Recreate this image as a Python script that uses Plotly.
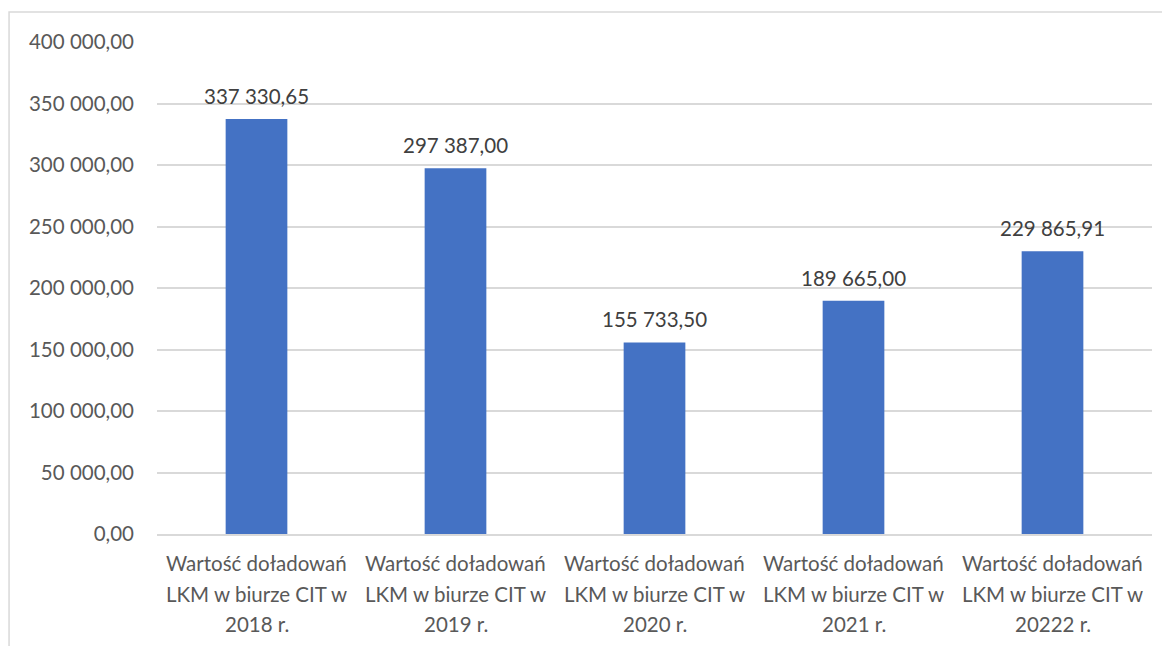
import plotly.graph_objects as go

categories = [
    "Wartość doładowań<br>LKM w biurze CIT w<br>2018 r.",
    "Wartość doładowań<br>LKM w biurze CIT w<br>2019 r.",
    "Wartość doładowań<br>LKM w biurze CIT w<br>2020 r.",
    "Wartość doładowań<br>LKM w biurze CIT w<br>2021 r.",
    "Wartość doładowań<br>LKM w biurze CIT w<br>20222 r.",
]
values = [337330.65, 297387.00, 155733.50, 189665.00, 229865.91]
tick_vals = [0, 50000, 100000, 150000, 200000, 250000, 300000, 350000, 400000]

FONT = "Lato"
SIZE = 20.5

# plot area height in pixels (the page body adds an 8px offset)
PLOT_H = 492

fig = go.Figure()
fig.add_trace(go.Bar(
    x=categories, y=values,
    marker=dict(color="#4472c4", line=dict(width=0)),
    width=0.31,
    hoverinfo="x+y",
))

# value labels above the bars, with a bit more gap than plotly's outside text
for cat, val in zip(categories, values):
    txt = f"{val:,.2f}".replace(",", " ").replace(".", ",")
    fig.add_annotation(
        x=cat, y=val, xref="x", yref="y", text=txt, showarrow=False,
        yanchor="bottom", xanchor="center", yshift=9,
        font=dict(family=FONT, size=SIZE, color="#404040"),
    )

# category labels, one annotation per line so the line spacing matches
line_offsets = [29, 60, 90]
for cat in categories:
    for i, part in enumerate(cat.split("<br>")):
        fig.add_annotation(
            x=cat, y=-line_offsets[i] / PLOT_H, xref="x", yref="paper",
            text=part, showarrow=False, yanchor="middle", xanchor="center",
            font=dict(family=FONT, size=SIZE, color="#595959"),
        )

# outer chart border (cut off at right and bottom in the source)
fig.add_shape(type="rect", xref="paper", yref="paper",
              x0=-0.1487, x1=1.3, y0=-0.5, y1=1.061,
              line=dict(color="#d9d9d9", width=1.5), layer="below")

fig.update_layout(
    width=1170, height=646,
    margin=dict(l=149, r=26, t=34, b=120),
    paper_bgcolor="white", plot_bgcolor="white",
    separators=", ",
    showlegend=False,
    font=dict(family=FONT, size=SIZE, color="#595959"),
)
fig.update_xaxes(
    showline=True, linecolor="#d9d9d9", linewidth=1.5,
    ticks="", showticklabels=False,
)
fig.update_yaxes(
    range=[0, 400000], tickvals=tick_vals, tickformat=",.2f",
    showgrid=True, gridcolor="#d9d9d9", gridwidth=1.5,
    zeroline=False, ticks="",
    tickfont=dict(family=FONT, size=SIZE, color="#595959"),
    ticklabelstandoff=22,
)

fig.write_html("out.html")
